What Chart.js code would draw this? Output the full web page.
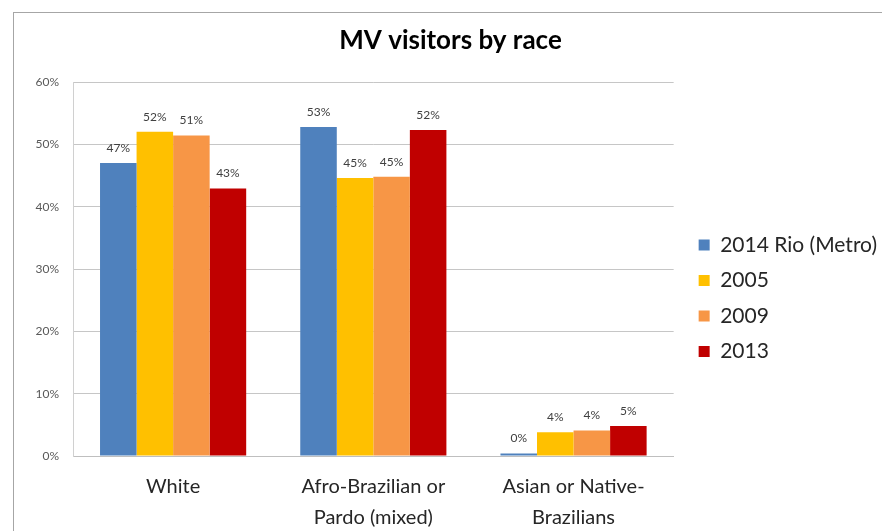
<!DOCTYPE html>
<html>
<head>
<meta charset="utf-8">
<script src="https://cdn.jsdelivr.net/npm/chart.js@4/dist/chart.umd.min.js"></script>
<style>
    body { margin: 0; background: #fff; }
    #wrap { position: relative; width: 882px; height: 531px; overflow: hidden; }
    #frame { position: absolute; left: 13px; top: 12px; width: 900px; height: 560px; border: 1px solid #a6a6a6; }
    #myChart { position: absolute; left: 0; top: 0; }
</style>
</head>
<body>
<div id="wrap">
    <div id="frame"></div>
    <canvas id="myChart" width="910" height="531"></canvas>
</div>
<script>
var categories = [['White'], ['Afro-Brazilian or', 'Pardo (mixed)'], ['Asian or Native-', 'Brazilians']];
var series_names = ['2014 Rio (Metro)', '2005', '2009', '2013'];
var rio_2014 = [47, 52.8, 0.4];
var year_2005 = [52, 44.6, 3.8];
var year_2009 = [51.4, 44.8, 4.1];
var year_2013 = [42.9, 52.3, 4.8];
var y_ticks = [0, 10, 20, 30, 40, 50, 60];
var colors = ['#4f81bd', '#ffc000', '#f79646', '#c00000'];

var font_family = 'Lato, "Open Sans", sans-serif';

// labels on top of each bar
var barLabels = {
    id: 'barLabels',
    afterDatasetsDraw: function (chart) {
        var ctx = chart.ctx;
        ctx.save();
        ctx.font = '12px ' + font_family;
        ctx.fillStyle = '#404040';
        ctx.textAlign = 'center';
        ctx.textBaseline = 'middle';
        chart.data.datasets.forEach(function (ds, i) {
            chart.getDatasetMeta(i).data.forEach(function (bar, j) {
                ctx.fillText(Math.round(ds.data[j]) + '%', bar.x, bar.y - 15);
            });
        });
        ctx.restore();
    }
};

var all_values = [rio_2014, year_2005, year_2009, year_2013];
var datasets = all_values.map(function (vals, i) {
    return {
        label: series_names[i],
        data: vals,
        backgroundColor: colors[i],
        borderWidth: 0,
        categoryPercentage: 0.73,
        barPercentage: 1
    };
});

var ctx = document.getElementById('myChart').getContext('2d');
var chart = new Chart(ctx, {
    type: 'bar',
    data: { labels: categories, datasets: datasets },
    options: {
        responsive: false,
        animation: false,
        layout: { padding: { left: 14, right: 23, top: 0, bottom: 0 } },
        plugins: {
            title: {
                display: true,
                text: 'MV visitors by race',
                color: '#000',
                font: { family: font_family, size: 26, weight: 'bold', lineHeight: 1.2 },
                padding: { top: 25, bottom: 25.8 }
            },
            legend: {
                position: 'right',
                maxWidth: 260,
                // empty title only pushes the items down
                title: {
                    display: true,
                    text: ' ',
                    font: { family: font_family, size: 12, lineHeight: 1.2 },
                    padding: { top: 25.5, bottom: 25.5 }
                },
                labels: {
                    color: '#262626',
                    font: { family: font_family, size: 21 },
                    boxWidth: 11,
                    boxHeight: 11,
                    padding: 14.5
                }
            },
            tooltip: { enabled: false }
        },
        scales: {
            x: {
                grid: { display: false },
                border: { color: '#bfbfbf' },
                ticks: {
                    color: '#262626',
                    padding: 7.5,
                    maxRotation: 0,
                    font: { family: font_family, size: 20, lineHeight: 1.55 }
                },
                afterFit: function (s) { s.height = 75; }
            },
            y: {
                min: 0,
                max: 60,
                afterBuildTicks: function (s) {
                    s.ticks = y_ticks.map(function (v) { return { value: v }; });
                },
                grid: { color: '#c6c6c6', drawTicks: false },
                border: { color: '#d0d0d0' },
                ticks: {
                    color: '#595959',
                    padding: 14,
                    font: { family: font_family, size: 12 },
                    callback: function (v) { return v + '%'; }
                },
                afterFit: function (s) { s.width = 59; }
            },
            yr: {
                position: 'right',
                grid: { display: false, drawTicks: false },
                border: { display: false },
                ticks: { display: false },
                afterFit: function (s) { s.width = 10.5; }
            }
        }
    },
    plugins: [barLabels]
});
</script>
</body>
</html>
